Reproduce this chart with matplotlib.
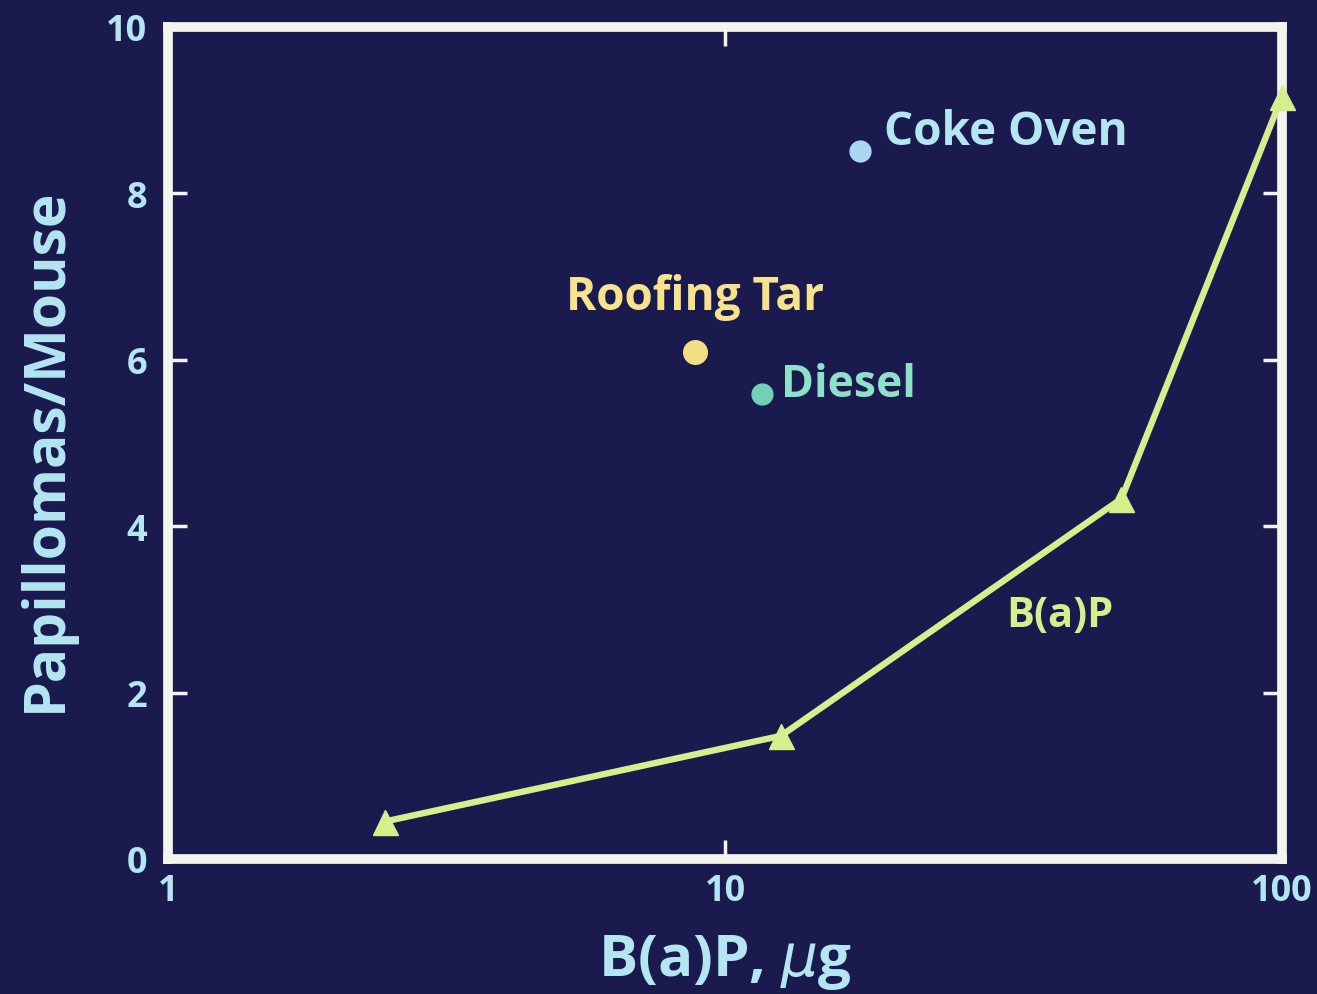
import matplotlib
matplotlib.use("Agg")
import matplotlib.pyplot as plt

# Data
bap_dose = [2.45, 12.6, 51.5, 100.0]
bap_papillomas = [0.45, 1.48, 4.33, 9.16]

mixture_names = ["Coke Oven", "Roofing Tar", "Diesel"]
mixture_dose = [17.5, 8.85, 11.65]
mixture_papillomas = [8.51, 6.09, 5.59]

xticks = [1, 10, 100]
xtick_labels = ["1", "10", "100"]
yticks = [0, 2, 4, 6, 8, 10]
ytick_labels = ["0", "2", "4", "6", "8", "10"]

BG = "#1b1a4f"
FRAME = "#f4f4ee"
LABEL = "#b4e6f2"
LINE = "#d6ee8c"
mixture_colors = ["#a9d9f2", "#f3df84", "#6fd2b6"]
mixture_text_colors = ["#b4e6f2", "#f6e38c", "#8fe0c8"]

plt.rcParams['font.family'] = ['Open Sans', 'DejaVu Sans']

fig = plt.figure(figsize=(13.17, 9.95), dpi=100, facecolor=BG)
ax = fig.add_axes([0.1276, 0.1357, 0.8458, 0.8362])
ax.set_facecolor(BG)

ax.plot(bap_dose, bap_papillomas, color=LINE, lw=4.6, marker='^', ms=18,
        mec=LINE, mfc=LINE, clip_on=False, zorder=3)

for name, x, y, c in zip(mixture_names, mixture_dose, mixture_papillomas, mixture_colors):
    ax.plot([x], [y], 'o', color=c, ms=17 if name == "Roofing Tar" else 15, zorder=4)

# labels
ax.annotate("Coke Oven", (mixture_dose[0], mixture_papillomas[0]), xytext=(17, 14),
            textcoords='offset points', color=mixture_text_colors[0], fontsize=33,
            fontweight='bold', ha='left', va='center')
ax.annotate("Roofing Tar", (mixture_dose[1], mixture_papillomas[1]), xytext=(0, 40),
            textcoords='offset points', color=mixture_text_colors[1], fontsize=33,
            fontweight='bold', ha='center', va='center')
ax.annotate("Diesel", (mixture_dose[2], mixture_papillomas[2]), xytext=(14, 7),
            textcoords='offset points', color=mixture_text_colors[2], fontsize=32,
            fontweight='bold', ha='left', va='center')
ax.annotate("B(a)P", (bap_dose[2], bap_papillomas[2]), xytext=(-44, -84),
            textcoords='offset points', color=LINE, fontsize=30,
            fontweight='bold', ha='center', va='center')

ax.set_xscale('log')
ax.set_xlim(1, 100)
ax.set_ylim(0, 10)
ax.set_xticks(xticks)
ax.set_xticklabels(xtick_labels)
ax.set_yticks(yticks)
ax.set_yticklabels(ytick_labels)
ax.minorticks_off()
ax.tick_params(axis='both', which='major', direction='in', length=14, width=2.5,
               color=FRAME, labelcolor=LABEL, labelsize=26, top=True, right=True,
               labeltop=False, labelright=False)
ax.tick_params(axis='y', pad=15)
ax.tick_params(axis='x', pad=10)
for lab in ax.get_xticklabels() + ax.get_yticklabels():
    lab.set_fontweight('bold')

for s in ax.spines.values():
    s.set_color(FRAME)
    s.set_linewidth(7)
    s.set_capstyle('projecting')

ax.set_ylabel("Papillomas/Mouse", color=LABEL, fontsize=41, fontweight='bold')
ax.yaxis.set_label_coords(-0.084, 0.493)
ax.set_xlabel("B(a)P, $\\mu$g", color=LABEL, fontsize=42, fontweight='bold')
ax.xaxis.set_label_coords(0.5, -0.088)
ax.xaxis.label.set_va('top')

fig.savefig("out.png", dpi=100, facecolor=BG)
